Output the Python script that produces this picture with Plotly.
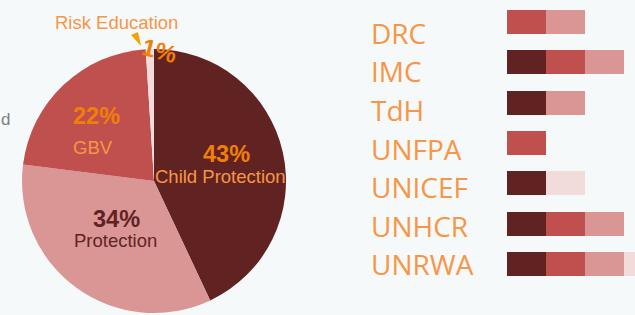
import plotly.graph_objects as go

# ---- data ----
sectors = ["Child Protection", "Protection", "GBV", "Risk Education"]
shares = [43, 34, 22, 1]
sector_colors = ["#612322", "#d99694", "#c0504d", "#f2dcdb"]

agencies = ["DRC", "IMC", "TdH", "UNFPA", "UNICEF", "UNHCR", "UNRWA"]
# presence (1 = active) per sector, stacked in this order
bar_order = ["Child Protection", "GBV", "Protection", "Risk Education"]
presence = {
    "Child Protection": [0, 1, 1, 0, 1, 1, 1],
    "GBV":              [1, 1, 0, 1, 0, 1, 1],
    "Protection":       [1, 1, 1, 0, 0, 1, 1],
    "Risk Education":   [0, 0, 0, 0, 1, 0, 1],
}
color_of = dict(zip(sectors, sector_colors))

W, H = 635, 315
BG = "#f6f9fa"
ORANGE_DARK = "#f07f09"
ORANGE_LIGHT = "#f79646"
MAROON = "#612322"

def px(x):
    return x / W

def py(y):
    return 1 - y / H

fig = go.Figure()

fig.add_trace(go.Pie(
    labels=sectors, values=shares, sort=False, direction="clockwise",
    rotation=0, marker=dict(colors=sector_colors, line=dict(width=0)),
    textinfo="none", hoverinfo="label+percent", showlegend=False,
    domain=dict(x=[px(22), px(286)], y=[py(313), py(49)]),
))

for s in bar_order:
    fig.add_trace(go.Bar(
        y=agencies, x=presence[s], orientation="h", name=s,
        marker=dict(color=color_of[s], line=dict(width=0)),
        showlegend=False,
    ))

unit = 39  # px per segment
row = (264 - 22) / 6
fig.update_layout(
    width=W, height=H, margin=dict(l=0, r=0, t=0, b=0, pad=0),
    paper_bgcolor=BG, plot_bgcolor=BG,
    barmode="stack", bargap=1 - 24 / row,
    xaxis=dict(domain=[px(507), 1], range=[0, (W - 507) / unit],
               visible=False, fixedrange=True),
    yaxis=dict(domain=[py(264 + row / 2), py(22 - row / 2)],
               range=[6.5, -0.5], type="category",
               categoryorder="array", categoryarray=agencies,
               visible=False, fixedrange=True),
)

annotations = []
# agency labels, evenly spaced rows
lab_top, lab_step = 33, 38.5
for i, a in enumerate(agencies):
    annotations.append(dict(
        text=a, xref="paper", yref="paper", x=px(369),
        y=py(lab_top + i * lab_step),
        xanchor="left", yanchor="middle", showarrow=False,
        font=dict(family="Open Sans", size=28, color=ORANGE_LIGHT),
    ))

pct = {s: f"{v}%" for s, v in zip(sectors, shares)}
pie_labels = [
    # (text, x, y, size, bold, color, angle)
    (pct["Child Protection"], 226, 153.5, 23.5, True, ORANGE_DARK, 0),
    ("Child Protection", 220, 176, 18.5, False, ORANGE_LIGHT, 0),
    (pct["Protection"], 116, 219, 23.5, True, MAROON, 0),
    ("Protection", 115, 241, 18.5, False, MAROON, 0),
    (pct["GBV"], 96, 116, 23.5, True, ORANGE_DARK, 0),
    ("GBV", 93, 147, 18.5, False, ORANGE_LIGHT, 0),
    (pct["Risk Education"], 159, 51, 24, True, ORANGE_DARK, 15),
    ("Risk Education", 116, 23, 18.5, False, ORANGE_LIGHT, 0),
]
for t, x, y, sz, b, c, ang in pie_labels:
    annotations.append(dict(
        text=f"<b>{t}</b>" if b else t, xref="paper", yref="paper",
        x=px(x), y=py(y), xanchor="center", yanchor="middle",
        showarrow=False, textangle=ang, borderpad=0,
        font=dict(family="Liberation Sans, Arial", size=sz, color=c),
    ))
annotations.append(dict(
    text="d", xref="paper", yref="paper", x=px(-1), y=py(119),
    xanchor="left", yanchor="middle", showarrow=False,
    font=dict(family="Liberation Sans, Arial", size=17, color="#808080"),
))
fig.update_layout(annotations=annotations)

# pointer triangle for the small slice
pts = [(131, 35), (138, 32), (141, 46)]
path = "M " + " L ".join(f"{px(x)},{py(y)}" for x, y in pts) + " Z"
fig.add_shape(type="path", path=path, xref="paper", yref="paper",
              fillcolor="#f5a100", line=dict(width=0))

fig.write_html("out.html", config={"displayModeBar": False},
               post_script="document.body.style.margin='0';")
